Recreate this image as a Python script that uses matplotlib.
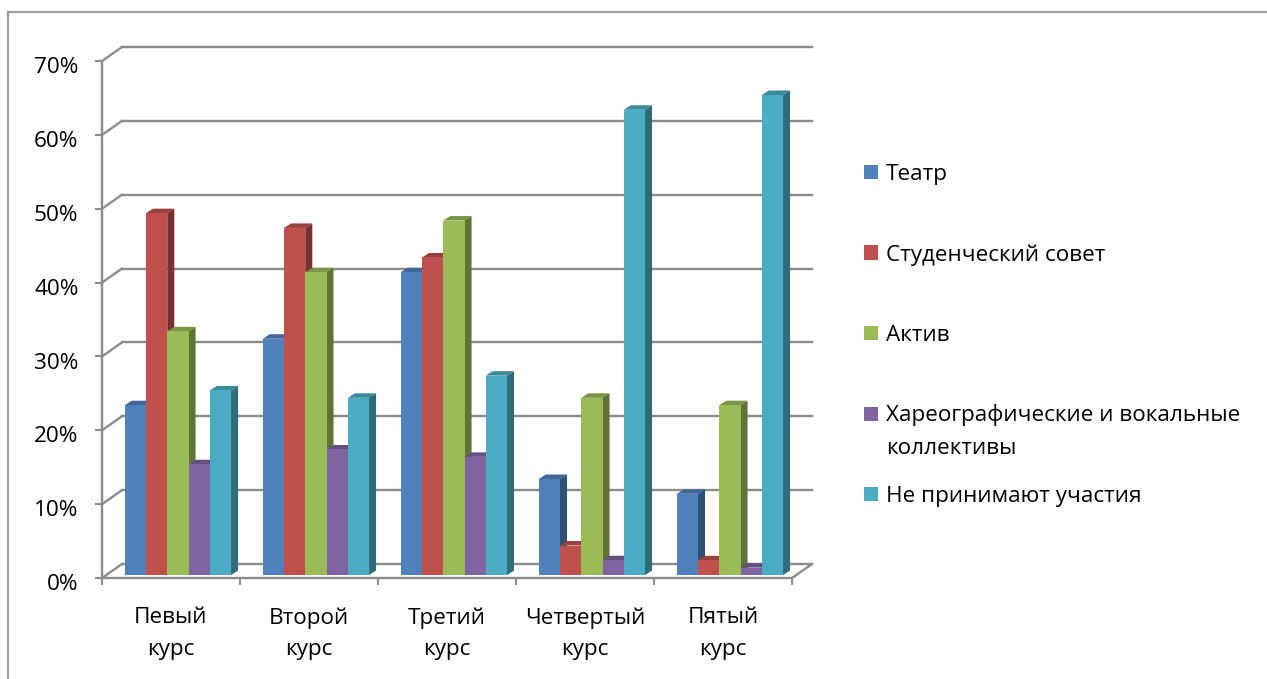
import numpy as np
import matplotlib
matplotlib.use("Agg")
import matplotlib.pyplot as plt
from matplotlib.patches import Polygon, Rectangle
from matplotlib.lines import Line2D
from matplotlib.colors import to_rgb
from matplotlib.transforms import ScaledTranslation

plt.rcParams['font.family'] = ['Open Sans', 'DejaVu Sans']

# data (percent of students)
courses = ['Певый\nкурс', 'Второй\nкурс', 'Третий\nкурс', 'Четвертый\nкурс', 'Пятый\nкурс']
series_names = ['Театр', 'Студенческий совет', 'Актив',
                'Хареографические и вокальные\nколлективы', 'Не принимают участия']
teatr = [23, 32, 41, 13, 11]
sovet = [49, 47, 43, 4, 2]
aktiv = [33, 41, 48, 24, 23]
khoreo = [15, 17, 16, 2, 1]
ne_uchastvuyut = [25, 24, 27, 63, 65]
y_ticks = [0, 10, 20, 30, 40, 50, 60, 70]

series = [teatr, sovet, aktiv, khoreo, ne_uchastvuyut]
colors = ['#4F81BD', '#C0504D', '#9BBB59', '#8064A2', '#4BACC6']

W, H = 1267, 679
GRID = '#8c8c8c'
FS = 16.2

# pseudo-3D geometry (in data units)
DX, DY = 0.145, 1.9          # depth of the walls
bar_w = 0.154
bar_off = 0.05               # bars sit a bit behind the front plane
bar_base = 0.4
ddx, ddy = 0.051, 0.61       # depth of each bar


def shade(c, f):
    r, g, b = to_rgb(c)
    return (r * f, g * f, b * f)


fig = plt.figure(figsize=(W / 100, H / 100), dpi=100)
ax = fig.add_axes([102 / W, (H - 578) / H, 710 / W, 531 / H])
ax.set_xlim(-0.5, 4.5 + DX)
ax.set_ylim(0, 70 + DY)
ax.patch.set_visible(False)
for s in ax.spines.values():
    s.set_visible(False)

# back wall gridlines and left wall diagonals
for v in y_ticks:
    ax.plot([-0.5 + DX, 4.5 + DX], [v + DY, v + DY], color=GRID, lw=1.7, clip_on=False, zorder=1)
    ax.plot([-0.5, -0.5 + DX], [v, v + DY], color=GRID, lw=1.7, clip_on=False, zorder=1)

# front axis lines and floor edge
ax.plot([-0.5, -0.5], [0, 70], color=GRID, lw=1.7, clip_on=False, zorder=1)
ax.plot([-0.5, 4.5], [0, 0], color=GRID, lw=1.7, clip_on=False, zorder=1)
ax.plot([4.5, 4.5 + DX], [0, DY], color=GRID, lw=1.7, clip_on=False, zorder=1)

# bars
x = np.arange(len(courses))
n = len(series)
for j, (vals, c) in enumerate(zip(series, colors)):
    lefts = x + bar_off - n * bar_w / 2 + j * bar_w
    z = 3 + j * 0.1
    ax.bar(lefts, vals, width=bar_w, bottom=bar_base, align='edge', color=c,
           linewidth=0, zorder=z + 0.05)
    for l, v in zip(lefts, vals):
        top = bar_base + v
        ax.add_patch(Polygon([(l, top), (l + bar_w, top), (l + bar_w + ddx, top + ddy),
                              (l + ddx, top + ddy)], closed=True,
                             facecolor=shade(c, 0.8), linewidth=0, zorder=z))
        ax.add_patch(Polygon([(l + bar_w, bar_base), (l + bar_w, top),
                              (l + bar_w + ddx, top + ddy), (l + bar_w + ddx, bar_base + ddy)],
                             closed=True, facecolor=shade(c, 0.62), linewidth=0, zorder=z))

# ticks
ax.set_yticks(y_ticks, [f'{v}%' for v in y_ticks])
ax.tick_params(axis='y', length=5, width=1.5, color=GRID, pad=12, labelsize=FS)
shift = ScaledTranslation(0, -3 / 72, fig.dpi_scale_trans)
for lab in ax.get_yticklabels():
    lab.set_transform(lab.get_transform() + shift)
ax.set_xticks(x, courses)
ax.set_xticks(np.arange(-0.5, 5, 1), minor=True)
ax.tick_params(axis='x', which='major', length=0, pad=21, labelsize=FS)
ax.tick_params(axis='x', which='minor', length=5, width=1.5, color=GRID)
for lab in ax.get_xticklabels():
    lab.set_linespacing(1.65)

# legend, drawn by hand to keep Excel-like spacing
leg_base = 180
leg_step = 80.5
line_step = 33
for j, (name, c) in enumerate(zip(series_names, colors)):
    b = leg_base + j * leg_step
    fig.add_artist(Rectangle((864 / W, (H - b + 1) / H), 14 / W, 14 / H,
                             transform=fig.transFigure, facecolor=c, edgecolor='none'))
    for k, line in enumerate(name.split('\n')):
        fig.text(886 / W, (H - b - k * line_step) / H, line, fontsize=FS,
                 ha='left', va='baseline')

# outer chart border
fig.add_artist(Line2D([8 / W, 8 / W], [0, (H - 12) / H], color='#a0a0a0', lw=1.6,
                      transform=fig.transFigure))
fig.add_artist(Line2D([8 / W, 1], [(H - 12) / H, (H - 12) / H], color='#a0a0a0', lw=1.6,
                      transform=fig.transFigure))

fig.savefig('out.png', dpi=100)
